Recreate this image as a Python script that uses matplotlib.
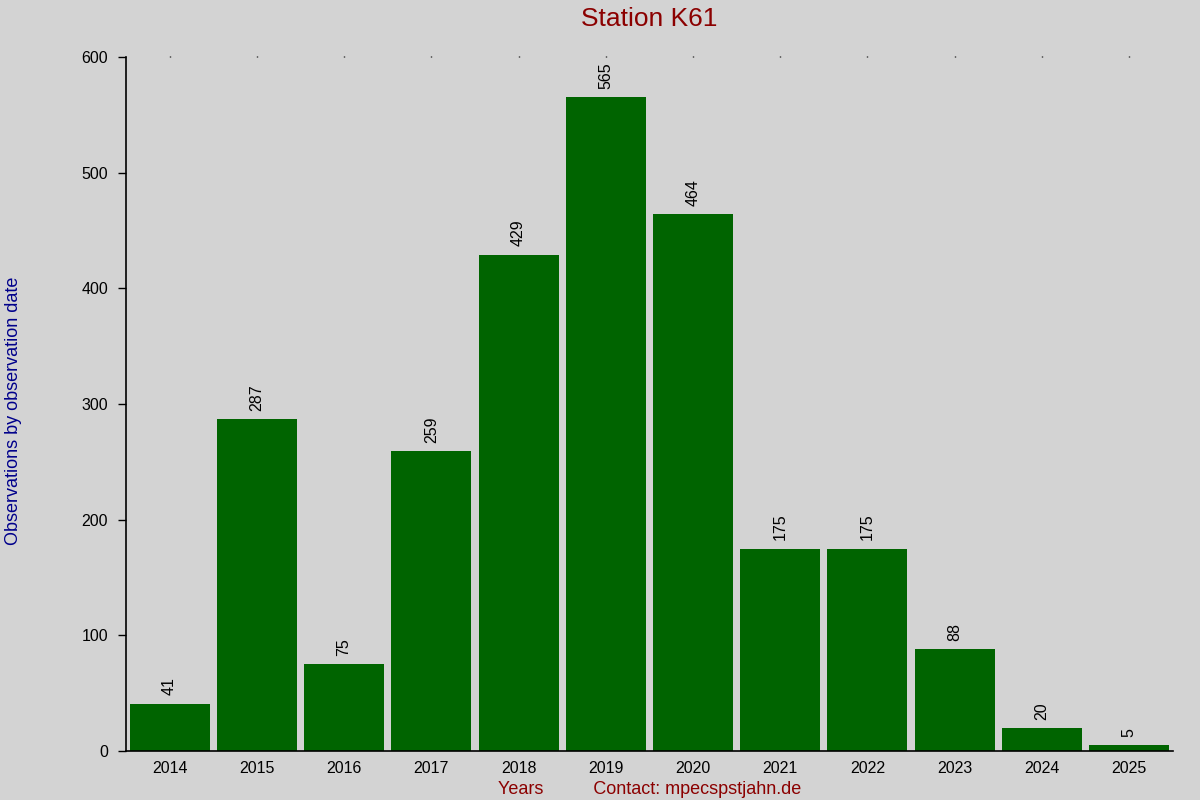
import matplotlib
matplotlib.use("Agg")
import matplotlib.pyplot as plt

# data
years = ["2014", "2015", "2016", "2017", "2018", "2019",
         "2020", "2021", "2022", "2023", "2024", "2025"]
counts = [41, 287, 75, 259, 429, 565, 464, 175, 175, 88, 20, 5]
y_ticks = [0, 100, 200, 300, 400, 500, 600]

bg = "#d3d3d3"
plt.rcParams['font.family'] = ['Liberation Sans', 'DejaVu Sans']

fig = plt.figure(figsize=(12, 8), dpi=100, facecolor=bg)
ax = fig.add_axes([0.105, 0.06125, 0.8723, 0.8675])
ax.set_facecolor(bg)

x = list(range(len(years)))
bars = ax.bar(x, counts, width=0.917, color="#006400")

for xi, v in zip(x, counts):
    ax.annotate(str(v), (xi, v), xytext=(0, 6), textcoords="offset points",
                rotation=90, ha="center", va="bottom", fontsize=11.5)

ax.set_xlim(-0.5, len(years) - 0.5)
ax.set_ylim(0, 600)
ax.set_yticks(y_ticks)
ax.set_xticks(x)
ax.set_xticklabels(years)

for s in ["top", "right"]:
    ax.spines[s].set_visible(False)
ax.spines["left"].set_linewidth(1.2)
ax.spines["bottom"].set_linewidth(1.2)

ax.tick_params(axis="y", length=6, width=1, labelsize=11.5, pad=7)
ax.tick_params(axis="x", bottom=False, top=True, length=1, width=1,
               labelsize=11.5, pad=6)

ax.set_title("Station K61", color="#8b0000", fontsize=19, pad=22)
ax.set_xlabel("Years          Contact: mpecspstjahn.de", color="#8b0000",
              fontsize=13, labelpad=4)
ax.set_ylabel("Observations by observation date", color="#00008b",
              fontsize=13)
ax.yaxis.set_label_coords(-0.099, 0.49)

fig.savefig("out.png", dpi=100, facecolor=bg)
